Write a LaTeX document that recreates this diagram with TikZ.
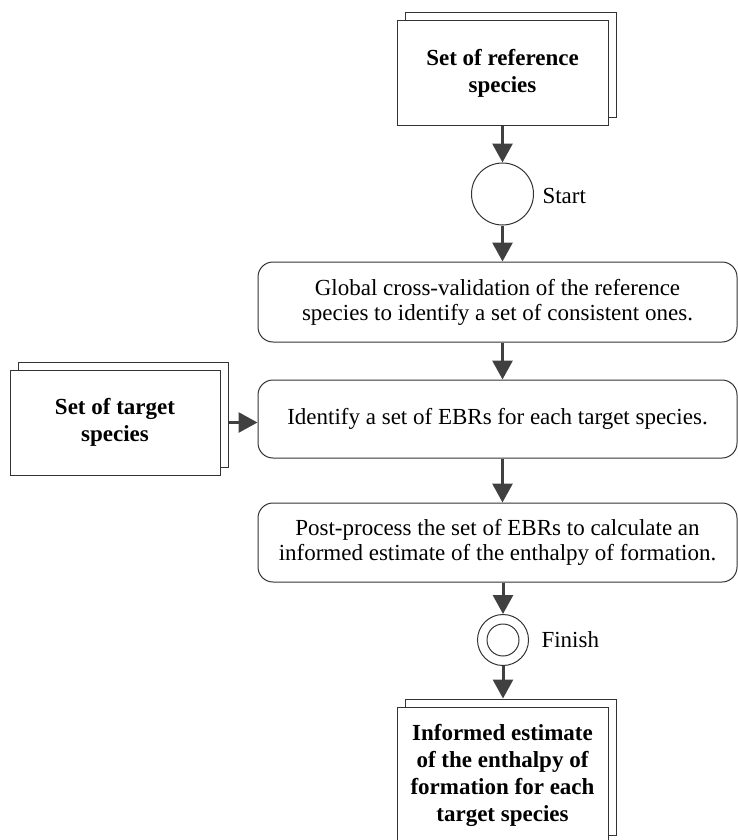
\documentclass[tikz,border=0pt]{standalone}
\usepackage{fontspec}
\setmainfont{Liberation Serif}
\usetikzlibrary{arrows.meta,shadows}
\definecolor{arr}{HTML}{404040}
\definecolor{edge}{HTML}{333333}
\begin{document}
\begin{tikzpicture}[x=1pt,y=-1pt,
  docbox/.style={draw=edge,line width=1pt,fill=white,rectangle,minimum width=211pt,align=center,inner sep=2pt,
    font=\fontsize{23}{27}\selectfont\bfseries,
    copy shadow={shadow xshift=8pt,shadow yshift=8pt,draw=edge,fill=white,line width=1pt}},
  procbox/.style={draw=edge,line width=1pt,fill=white,rounded corners=15pt,minimum width=479pt,align=center,
    font=\fontsize{23}{25}\selectfont},
  conn/.style={draw=arr,line width=3pt,-{Triangle[length=19pt,width=20pt]}},
  lab/.style={anchor=west,font=\fontsize{23}{25}\selectfont}
]
\useasboundingbox (0,0) rectangle (738,840);
\node[docbox,minimum height=105pt] (ref) at (502.5,73.5) {Set of reference\\species};
\node[circle,draw=edge,line width=1pt,minimum size=62pt,inner sep=0pt] (start) at (502.5,194) {};
\node[lab] (startl) at (539,196) {Start};
\node[procbox,minimum height=80pt] (glob) at (497.5,302) {Global cross-validation of the reference\\species to identify a set of consistent ones.};
\node[procbox,minimum height=78pt] (ebr) at (497.5,419) {Identify a set of EBRs for each target species.};
\node[procbox,minimum height=79pt] (post) at (497.5,542.5) {Post-process the set of EBRs to calculate an\\informed estimate of the enthalpy of formation.};
\node[circle,draw=edge,line width=1pt,minimum size=51pt,inner sep=0pt] (fin) at (503,640) {};
\node[circle,draw=edge,line width=1pt,minimum size=32pt,inner sep=0pt] (finin) at (503,640) {};
\node[lab] (finl) at (538,640) {Finish};
\node[docbox,minimum width=210pt,minimum height=105pt] (tgt) at (115,422.5) {Set of target\\species};
\node[docbox,minimum height=136pt] (out) at (502.5,775) {Informed estimate\\of the enthalpy of\\formation for each\\target species};
\draw[conn] (ref.south) -- (start.north);
\draw[conn] (start.south) -- (start.south |- glob.north);
\draw[conn] (start.south |- glob.south) -- (start.south |- ebr.north);
\draw[conn] ([xshift=8pt]tgt.east) -- (tgt.east -| ebr.west);
\draw[conn] (start.south |- ebr.south) -- (start.south |- post.north);
\draw[conn] (fin.north |- post.south) -- (fin.north);
\draw[conn] (fin.south) -- ([yshift=8pt]fin.south |- out.north);
\end{tikzpicture}
\end{document}
